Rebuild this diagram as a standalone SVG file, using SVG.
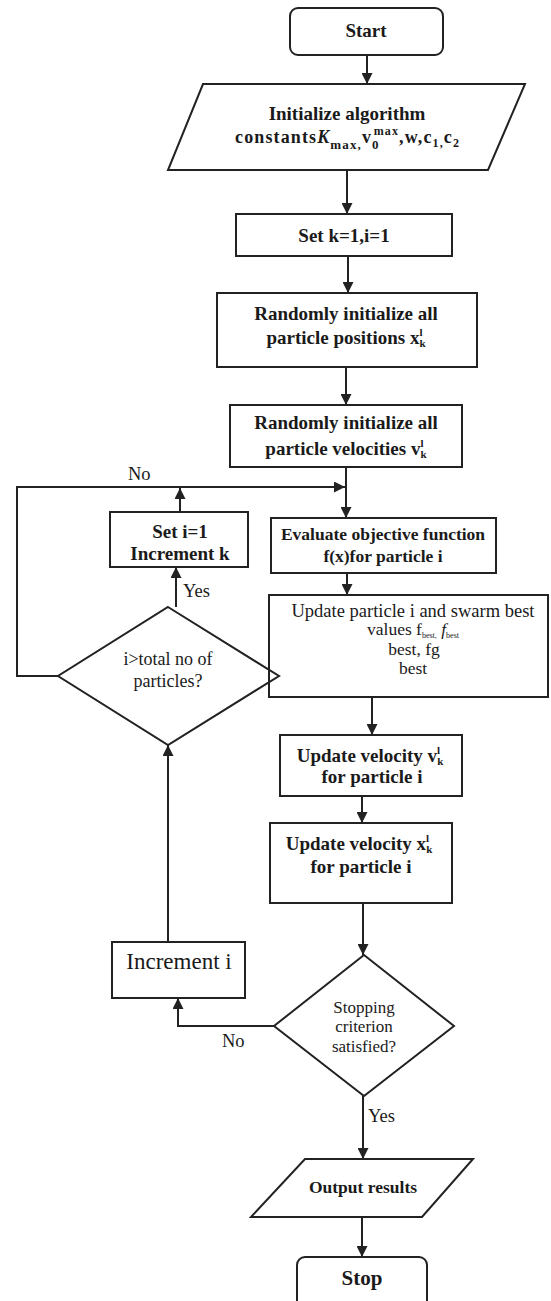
<svg xmlns="http://www.w3.org/2000/svg" width="551" height="1301" viewBox="0 0 551 1301">
<style>
.box{fill:none;stroke:#222;stroke-width:2}
.conn{fill:none;stroke:#222;stroke-width:2}
text{font-family:"Liberation Serif","Times New Roman",serif;fill:#1a1a1a;text-anchor:middle}
.b{font-weight:bold}
.lbl{font-size:18.5px;text-anchor:start}
.sm{font-size:11px}
</style>
<defs>
<marker id="ah" viewBox="0 0 10 10" refX="10" refY="5" markerWidth="11" markerHeight="11" markerUnits="userSpaceOnUse" orient="auto">
<path d="M0,0 L10,5 L0,10 z" fill="#222"/>
</marker>
</defs>
<rect width="551" height="1301" fill="#fff"/>

<g id="connectors">
<line class="conn" x1="367" y1="55" x2="367" y2="84" marker-end="url(#ah)"/>
<line class="conn" x1="347" y1="170" x2="347" y2="214" marker-end="url(#ah)"/>
<line class="conn" x1="348" y1="256" x2="348" y2="293" marker-end="url(#ah)"/>
<line class="conn" x1="346" y1="367" x2="346" y2="405" marker-end="url(#ah)"/>
<line class="conn" x1="346" y1="467" x2="346" y2="518" marker-end="url(#ah)"/>
<polyline class="conn" points="58,676 17,676 17,487 345,487" marker-end="url(#ah)"/>
<line class="conn" x1="180" y1="512" x2="180" y2="488" marker-end="url(#ah)"/>
<line class="conn" x1="176" y1="607" x2="176" y2="567" marker-end="url(#ah)"/>
<line class="conn" x1="347" y1="573" x2="347" y2="595" marker-end="url(#ah)"/>
<line class="conn" x1="372" y1="697" x2="372" y2="735" marker-end="url(#ah)"/>
<line class="conn" x1="362" y1="796" x2="362" y2="823" marker-end="url(#ah)"/>
<line class="conn" x1="363" y1="903" x2="363" y2="955" marker-end="url(#ah)"/>
<polyline class="conn" points="274,1026 178,1026 178,998" marker-end="url(#ah)"/>
<line class="conn" x1="168" y1="942" x2="168" y2="745" marker-end="url(#ah)"/>
<line class="conn" x1="363" y1="1096" x2="363" y2="1159" marker-end="url(#ah)"/>
<line class="conn" x1="362" y1="1217" x2="362" y2="1257" marker-end="url(#ah)"/>
<text class="lbl" x="128" y="480">No</text>
<text class="lbl" x="183" y="597">Yes</text>
<text class="lbl" x="222" y="1047">No</text>
<text class="lbl" x="368" y="1122">Yes</text>
</g>

<g id="start">
<rect class="box" x="290" y="8" width="153" height="47" rx="8"/>
<text class="b" x="366" y="37" font-size="19">Start</text>
</g>

<g id="init">
<polygon class="box" points="203,84 525,84 488,170 168,170"/>
<text class="b" x="347" y="120" font-size="19">Initialize algorithm</text>
<text class="b" x="235" y="143" font-size="18" textLength="224" lengthAdjust="spacing" style="text-anchor:start">constants<tspan font-style="italic">K</tspan><tspan font-size="13" dy="6">max,</tspan><tspan dy="-6">v</tspan><tspan font-size="13" dy="6">0</tspan><tspan font-size="12" dx="-6" dy="-14">max</tspan><tspan dy="8">,w,c</tspan><tspan font-size="12" dy="4">1,</tspan><tspan dy="-4">c</tspan><tspan font-size="12" dy="4">2</tspan></text>
</g>

<g id="setk">
<rect class="box" x="236" y="214" width="216" height="42"/>
<text class="b" x="344" y="242" font-size="19">Set k=1,i=1</text>
</g>

<g id="positions">
<rect class="box" x="217" y="293" width="260" height="74"/>
<text class="b" x="346" y="320" font-size="19">Randomly initialize all</text>
<text class="b" x="346" y="344" font-size="19">particle positions x<tspan class="sm" dy="-8">l</tspan><tspan class="sm" dx="-3" dy="11">k</tspan></text>
</g>

<g id="velocities">
<rect class="box" x="230" y="405" width="232" height="62"/>
<text class="b" x="346" y="429" font-size="19">Randomly initialize all</text>
<text class="b" x="346" y="455" font-size="19">particle velocities v<tspan class="sm" dy="-8">l</tspan><tspan class="sm" dx="-3" dy="11">k</tspan></text>
</g>

<g id="seti">
<rect class="box" x="110" y="512" width="138" height="55"/>
<text class="b" x="180" y="538" font-size="19">Set i=1</text>
<text class="b" x="180" y="560" font-size="19">Increment k</text>
</g>

<g id="evaluate">
<rect class="box" x="271" y="518" width="225" height="55"/>
<text class="b" x="383" y="540" font-size="17.5">Evaluate objective function</text>
<text class="b" x="383" y="562" font-size="17.5">f(x)for  particle i</text>
</g>

<g id="update">
<rect class="box" x="269" y="595" width="279" height="102"/>
<text x="413" y="617" font-size="18.5">Update particle i and swarm best</text>
<text x="413" y="635" font-size="17.5">values f<tspan font-size="8" dy="3">best,</tspan><tspan dy="-3" font-style="italic"> f</tspan><tspan font-size="8" dy="3">best</tspan></text>
<text x="414" y="655" font-size="17.5">best, fg</text>
<text x="413" y="674" font-size="17.5">best</text>
</g>

<g id="decision1">
<polygon class="box" points="168,607 279,676 168,745 58,676"/>
<text x="168" y="665" font-size="18">i&gt;total no of</text>
<text x="168" y="687" font-size="18">particles?</text>
</g>

<g id="updatev">
<rect class="box" x="280" y="735" width="182" height="61"/>
<text class="b" x="370" y="762" font-size="19">Update velocity v<tspan class="sm" dy="-8">l</tspan><tspan class="sm" dx="-3" dy="11">k</tspan></text>
<text class="b" x="372" y="783" font-size="19">for  particle i</text>
</g>

<g id="updatex">
<rect class="box" x="270" y="823" width="182" height="80"/>
<text class="b" x="359" y="850" font-size="19">Update velocity x<tspan class="sm" dy="-8">l</tspan><tspan class="sm" dx="-3" dy="11">k</tspan></text>
<text class="b" x="361" y="873" font-size="19">for  particle i</text>
</g>

<g id="incrementi">
<rect class="box" x="112" y="942" width="133" height="56"/>
<text x="179" y="969" font-size="23">Increment i</text>
</g>

<g id="decision2">
<polygon class="box" points="364,955 454,1026 364,1096 274,1026"/>
<text x="364" y="1013" font-size="17">Stopping</text>
<text x="364" y="1032" font-size="17">criterion</text>
<text x="364" y="1052" font-size="17">satisfied?</text>
</g>

<g id="output">
<polygon class="box" points="305,1159 473,1159 422,1217 251,1217"/>
<text class="b" x="363" y="1193" font-size="17.5">Output results</text>
</g>

<g id="stop">
<rect class="box" x="297" y="1257" width="130" height="52" rx="8"/>
<text class="b" x="362" y="1285" font-size="21">Stop</text>
</g>
</svg>
